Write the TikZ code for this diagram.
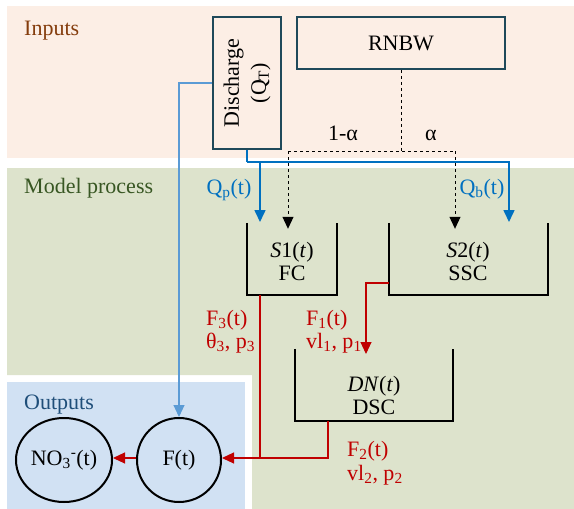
\documentclass[tikz,border=0pt]{standalone}
\usepackage{fontspec}
\setmainfont{Liberation Serif}
\usetikzlibrary{arrows.meta,positioning,shapes.geometric}

\definecolor{inbg}{RGB}{252,238,229}
\definecolor{procbg}{RGB}{221,227,204}
\definecolor{outbg}{RGB}{209,225,243}
\definecolor{intext}{RGB}{132,60,12}
\definecolor{proctext}{RGB}{56,87,35}
\definecolor{outtext}{RGB}{31,78,121}
\definecolor{boxline}{RGB}{31,73,90}
\definecolor{qblue}{RGB}{0,112,192}
\definecolor{lblue}{RGB}{91,155,213}
\definecolor{fred}{RGB}{192,0,0}

\newcommand\lblfont{\fontsize{22}{23}\selectfont}

\tikzset{
  inbox/.style={draw=boxline, line width=1.8pt, fill=inbg},
  tankline/.style={line width=1.8pt},
  tank/.style={minimum height=72, inner sep=0pt},
  pool/.style={ellipse, draw, line width=2pt, minimum height=84, inner sep=0pt},
  tip/.style={-{Triangle[width=11pt,length=12pt]}},
  qflow/.style={qblue, line width=1.6pt, tip},
  lflow/.style={lblue, line width=1.1pt, tip},
  dflow/.style={dashed, line width=1pt, tip},
  fline/.style={fred, line width=1.1pt},
  fflow/.style={fline, tip}
}

\begin{document}
\begin{tikzpicture}[x=1pt, y=-1pt, every node/.style={font=\lblfont}]
  \useasboundingbox (0,0) rectangle (574,509);

  % backgrounds
  \fill[inbg] (7,6) rectangle (574,158);
  \fill[procbg] (7,168) -- (574,168) -- (574,509) -- (252,509) -- (252,375) -- (7,375) -- cycle;
  \fill[outbg] (7,382) rectangle (245,509);

  % section titles
  \node[anchor=base west, inner sep=0pt, text=intext] (tin) at (24,35) {Inputs};
  \node[anchor=base west, inner sep=0pt, text=proctext] (tproc) at (24,193) {Model process};
  \node[anchor=base west, inner sep=0pt, text=outtext] (tout) at (24,409) {Outputs};

  % input boxes
  \node[inbox, minimum width=68, minimum height=132] (dis) at (247,83) {};
  \node[rotate=90, align=center] (distxt) at (dis.center) {Discharge\\[4pt](Q\textsubscript{T})};
  \node[inbox, minimum width=208, minimum height=52] (rnbw) at (401,43) {RNBW};

  % tanks
  \node[tank, minimum width=90] (s1) at (292,259) {};
  \node[tank, minimum width=159] (s2) at (468.5,259) {};
  \node[tank, minimum width=158] (dn) at (374,385) {};
  \draw[tankline] (s1.north west) |- (s1.south east) -- (s1.north east);
  \draw[tankline] (s2.north west) |- (s2.south east) -- (s2.north east);
  \draw[tankline] (dn.north west) |- (dn.south east) -- (dn.north east);
  \node[align=center] (s1txt) at (292,261) {\textit{S}1(\textit{t})\\FC};
  \node[align=center] (s2txt) at (468,261) {\textit{S}2(\textit{t})\\SSC};
  \node[align=center] (dntxt) at (374,395) {\textit{DN}(\textit{t})\\DSC};

  % outputs
  \node[pool, minimum width=84] (ft) at (179,460) {F(t)};
  \node[pool, minimum width=96] (no3) at (64,460) {NO\textsubscript{3}\textsuperscript{-}(t)};

  % RNBW split
  \coordinate (split) at (401,151);
  \coordinate (a1) at (288,151);
  \coordinate (a2) at (455,151);
  \draw[dashed, line width=1pt] (rnbw.south) -- (split);
  \draw[dashed, line width=1pt] (a1) -- (a2);
  \draw[dflow] (a1) -- ([yshift=-6pt]a1 |- s1.north);
  \draw[dflow] (a2) -- ([yshift=-6pt]a2 |- s2.north);
  \node[anchor=base] (alpha1) at (343,140) {1-α};
  \node[anchor=base] (alpha2) at (431,140) {α};

  % discharge split
  \coordinate (qsplit) at (247,162);
  \coordinate (qp) at (260,222);
  \coordinate (qb) at (509,222);
  \draw[qblue, line width=1.6pt] (dis.south) -- (qsplit);
  \draw[qflow] (qsplit) -| (qp);
  \draw[qflow] (qsplit) -| (qb);
  \node[anchor=base, text=qblue] (qptxt) at (229,194) {Q\textsubscript{p}(t)};
  \node[anchor=base, text=qblue] (qbtxt) at (482,194) {Q\textsubscript{b}(t)};
  \draw[lflow] (dis.west) -| (ft.north);

  % fluxes
  \coordinate (f1end) at (366,354);
  \coordinate (fjoin) at (260,458);
  \draw[fflow] ([yshift=-24pt]s2.west) -| (f1end);
  \draw[fline] (fjoin |- s1.south) -- (fjoin);
  \draw[fflow] ([xshift=-46pt]dn.south) |- ([yshift=2pt]ft.east);
  \draw[fflow] ([yshift=2pt]ft.west) -- ([yshift=2pt]no3.east);
  \node[anchor=base west, inner sep=0pt, text=fred] (f3a) at (206,325) {F\textsubscript{3}(t)};
  \node[anchor=base west, inner sep=0pt, text=fred] (f3b) at (206,348) {θ\textsubscript{3}, p\textsubscript{3}};
  \node[anchor=base west, inner sep=0pt, text=fred] (f1a) at (306,325) {F\textsubscript{1}(t)};
  \node[anchor=base west, inner sep=0pt, text=fred] (f1b) at (306,348) {vl\textsubscript{1}, p\textsubscript{1}};
  \node[anchor=base west, inner sep=0pt, text=fred] (f2a) at (347,456) {F\textsubscript{2}(t)};
  \node[anchor=base west, inner sep=0pt, text=fred] (f2b) at (347,480) {vl\textsubscript{2}, p\textsubscript{2}};
\end{tikzpicture}
\end{document}
